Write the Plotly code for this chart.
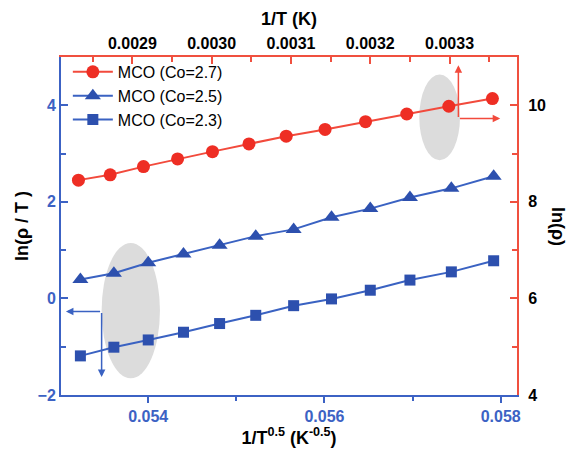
import plotly.graph_objects as go

# ---- data ----
sqrt_inv_T = [0.05323, 0.05361, 0.05400, 0.05440, 0.05481, 0.05522,
              0.05565, 0.05608, 0.05652, 0.05697, 0.05744, 0.05792]      # 1/T^0.5 (K^-0.5)
inv_T = [0.002832, 0.002872, 0.002914, 0.002957, 0.003001, 0.003047,
         0.003094, 0.003143, 0.003194, 0.003246, 0.003299, 0.003354]     # 1/T (K)
ln_rho_co27 = [8.45, 8.56, 8.73, 8.89, 9.04, 9.20, 9.36, 9.50, 9.66, 9.82, 9.98, 10.14]
ln_rhoT_co25 = [0.39, 0.52, 0.74, 0.92, 1.10, 1.29, 1.43, 1.68, 1.86, 2.09, 2.28, 2.53]
ln_rhoT_co23 = [-1.19, -1.01, -0.86, -0.70, -0.52, -0.35, -0.15, -0.01, 0.17, 0.38, 0.55, 0.78]
names = ["MCO (Co=2.7)", "MCO (Co=2.5)", "MCO (Co=2.3)"]

RED = "#EE2E24"
RED_LINE = "#F24A3C"
BLUE = "#2D50AE"
BLUE_LINE = "#3A62C2"
AX_BLUE = "#3C62C4"
AX_RED = "#F0503F"
GRAY = "#DCDCDC"

fig = go.Figure()
fig.add_trace(go.Scatter(x=inv_T, y=ln_rho_co27, name=names[0], xaxis="x2", yaxis="y2",
                         mode="lines+markers", line=dict(color=RED_LINE, width=2),
                         marker=dict(symbol="circle", size=13, color=RED)))
fig.add_trace(go.Scatter(x=sqrt_inv_T, y=ln_rhoT_co25, name=names[1],
                         mode="lines+markers", line=dict(color=BLUE_LINE, width=2),
                         marker=dict(symbol="triangle-up", size=14, color=BLUE)))
fig.add_trace(go.Scatter(x=sqrt_inv_T, y=ln_rhoT_co23, name=names[2],
                         mode="lines+markers", line=dict(color=BLUE_LINE, width=2),
                         marker=dict(symbol="square", size=11, color=BLUE)))

# highlight ellipses
fig.add_shape(type="circle", xref="x", yref="y", x0=0.057076, x1=0.057538, y0=2.86, y1=4.64,
              fillcolor=GRAY, line=dict(width=0), layer="below")
fig.add_shape(type="circle", xref="x", yref="y", x0=0.053471, x1=0.054133, y0=-1.655, y1=1.15,
              fillcolor=GRAY, line=dict(width=0), layer="below")

# axis-indicating arrows
red_corner = (0.0033111, 9.724)
blue_corner = (0.053471, -0.273)
arrow = dict(showarrow=True, arrowhead=2, arrowsize=1, arrowwidth=1.5, text="")
fig.add_annotation(xref="x2", yref="y2", axref="x2", ayref="y2", x=red_corner[0], y=10.83,
                   ax=red_corner[0], ay=red_corner[1], arrowcolor=RED_LINE, **arrow)
fig.add_annotation(xref="x2", yref="y2", axref="x2", ayref="y2", x=0.0033638, y=red_corner[1],
                   ax=red_corner[0], ay=red_corner[1], arrowcolor=RED_LINE, **arrow)
fig.add_annotation(xref="x", yref="y", axref="x", ayref="y", x=0.053066, y=blue_corner[1],
                   ax=blue_corner[0], ay=blue_corner[1], arrowcolor=BLUE_LINE, **arrow)
fig.add_annotation(xref="x", yref="y", axref="x", ayref="y", x=blue_corner[0], y=-1.628,
                   ax=blue_corner[0], ay=blue_corner[1], arrowcolor=BLUE_LINE, **arrow)

# right axis title (reads top-to-bottom)
fig.add_annotation(xref="paper", yref="paper", x=1.09, y=0.5, text="ln(ρ)", showarrow=False,
                   textangle=90, font=dict(size=18, color="black", weight="bold"),
                   xanchor="center", yanchor="middle")

FONT = "Liberation Sans, Arial, sans-serif"
fig.update_layout(
    width=579, height=449,
    margin=dict(l=61, r=62, t=57, b=54, autoexpand=False),
    paper_bgcolor="white", plot_bgcolor="white",
    font=dict(family=FONT, color="black"),
    showlegend=True,
    legend=dict(x=0.015, y=1.006, xanchor="left", yanchor="top", bgcolor="rgba(0,0,0,0)",
                font=dict(size=16, color="black"), tracegroupgap=0, itemwidth=40),
    xaxis=dict(range=[0.05301, 0.058185], dtick=0.002, tick0=0.054, tickformat=".3f",
               automargin=False,
               showgrid=False, zeroline=False, showline=True, linecolor=AX_BLUE, linewidth=2,
               ticks="outside", ticklen=6, tickwidth=2, tickcolor=AX_BLUE,
               minor=dict(dtick=0.001, ticks="outside", ticklen=4, tickwidth=2, tickcolor=AX_BLUE),
               tickfont=dict(size=16, color=AX_BLUE, weight="bold"),
               title=dict(text="1/T<sup>0.5</sup> (K<sup>-0.5</sup>)", standoff=2,
                          font=dict(size=18, color="black", weight="bold"))),
    yaxis=dict(range=[-2, 5], dtick=2, tick0=0, showgrid=False, zeroline=False,
               automargin=False,
               showline=True, linecolor=AX_BLUE, linewidth=2,
               ticks="inside", ticklen=7, tickwidth=2, tickcolor=AX_BLUE,
               minor=dict(dtick=1, ticks="inside", ticklen=5, tickwidth=2, tickcolor=AX_BLUE),
               tickfont=dict(size=16, color=AX_BLUE, weight="bold"),
               title=dict(text="ln(ρ / T )", standoff=4,
                          font=dict(size=18, color="black", weight="bold"))),
    xaxis2=dict(overlaying="x", side="top", range=[0.002810, 0.003385], dtick=0.0001,
                automargin=False,
                tick0=0.0029, tickformat=".4f", showgrid=False, zeroline=False,
                showline=True, linecolor=AX_RED, linewidth=2,
                ticks="inside", ticklen=7, tickwidth=2, tickcolor=AX_RED,
                minor=dict(dtick=0.00005, ticks="inside", ticklen=5, tickwidth=2, tickcolor=AX_RED),
                tickfont=dict(size=16, color="black", weight="bold"),
                title=dict(text="1/T (K)", standoff=4,
                           font=dict(size=18, color="black", weight="bold"))),
    yaxis2=dict(overlaying="y", side="right", range=[4, 11], dtick=2, tick0=4,
                automargin=False,
                showgrid=False, zeroline=False, showline=True, linecolor=AX_RED, linewidth=2,
                ticks="inside", ticklen=7, tickwidth=2, tickcolor=AX_RED,
                minor=dict(dtick=1, ticks="inside", ticklen=5, tickwidth=2, tickcolor=AX_RED),
                ticklabelstandoff=6,
                tickfont=dict(size=16, color="black", weight="bold")),
)

fig.write_html("out.html", config={"displayModeBar": False},
               post_script="document.body.style.margin='0';document.body.style.padding='0';")
